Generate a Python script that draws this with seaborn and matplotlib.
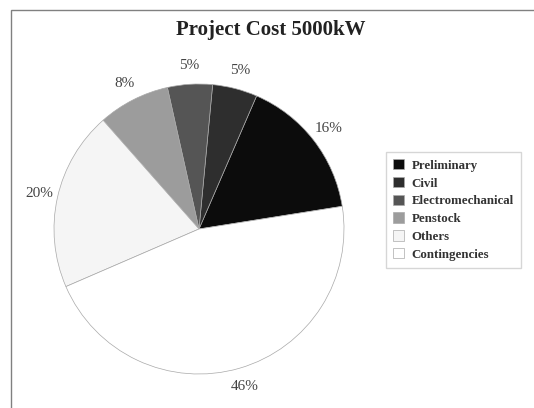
import matplotlib
matplotlib.use("Agg")
import matplotlib.pyplot as plt
import seaborn as sns
from matplotlib.patches import Rectangle

categories = ["Preliminary", "Civil", "Electromechanical", "Penstock", "Others", "Contingencies"]
shares = [16, 5, 5, 8, 20, 46]
colors = ["#0c0c0c", "#2e2e2e", "#555555", "#9c9c9c", "#f5f5f5", "#ffffff"]
title = "Project Cost 5000kW"

sns.set_theme(style="white")
plt.rcParams["font.family"] = ["Liberation Serif", "DejaVu Serif"]

fig = plt.figure(figsize=(5.34, 4.08), dpi=100)
fig.patch.set_facecolor("white")

# outer frame (extends past right/bottom edges)
fig.patches.append(Rectangle((11 / 534, -0.2), 1.5, (408 - 10) / 408 + 0.2,
                             transform=fig.transFigure, fill=False,
                             edgecolor="#808080", linewidth=1.0))

ax = fig.add_axes([54 / 534, 34 / 408, 290 / 534, 290 / 408])
wedges, texts = ax.pie(
    shares, colors=colors, startangle=9, counterclock=True,
    labels=[f"{v}%" for v in shares], labeldistance=1.13,
    wedgeprops=dict(edgecolor="#a8a8a8", linewidth=0.5),
    textprops=dict(fontsize=11, color="#444444"),
)
for t in texts:
    t.set_horizontalalignment("center")
    t.set_verticalalignment("center")
ax.set_xlim(-1, 1)
ax.set_ylim(-1, 1)
ax.set_aspect("equal")
ax.axis("off")

fig.text(271 / 534, 1 - 30 / 408, title, ha="center", va="center",
         fontsize=15, fontweight="bold", color="#222222")

leg = fig.legend(wedges, categories, loc="upper left",
                 bbox_to_anchor=(386 / 534, 1 - 152 / 408),
                 fancybox=False, frameon=True, edgecolor="#cccccc",
                 prop=dict(size=9.3, weight="bold"),
                 handlelength=0.85, handleheight=0.85, handletextpad=0.6,
                 labelspacing=0.4, borderpad=0.55, borderaxespad=0)
for txt in leg.get_texts():
    txt.set_color("#333333")
for h in leg.legend_handles:
    h.set_edgecolor("#aaaaaa")
    h.set_linewidth(0.5)

fig.savefig("out.png", dpi=100, facecolor="white")
